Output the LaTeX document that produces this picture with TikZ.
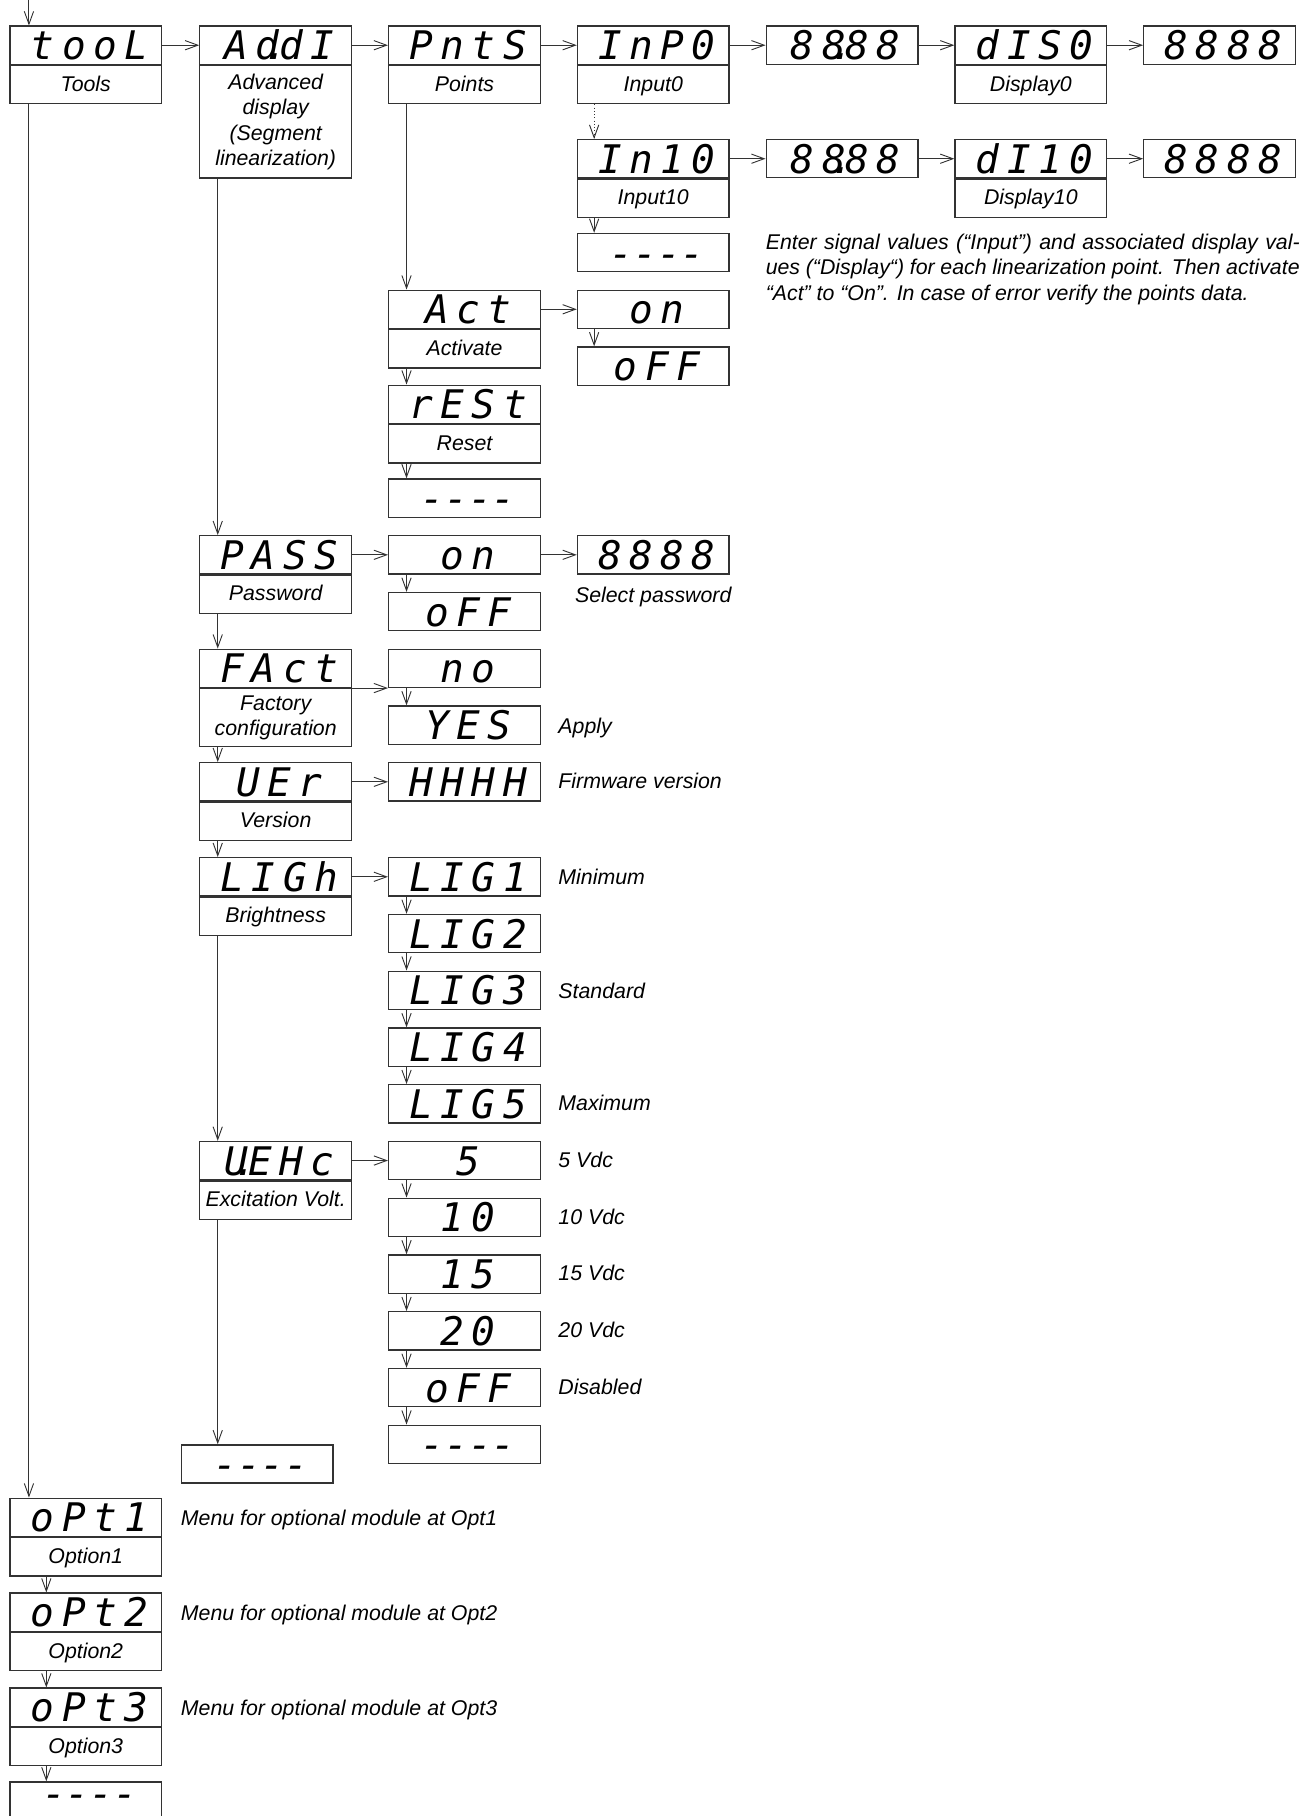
\documentclass[tikz,border=0pt]{standalone}
\usepackage{fontspec}
\setmainfont{Liberation Sans}
\newfontfamily\segfam{DejaVu Sans Mono}[LetterSpace=19]
\usetikzlibrary{arrows.meta,calc}
\definecolor{ln}{HTML}{333333}
\newcommand\segfont{\segfam\itshape\fontsize{34}{34}\selectfont}
\newcommand\labfont{\itshape\fontsize{18.4}{22}\selectfont}
\newcommand\segdot{\kern-0.38em\rlap{.}\kern0.38em}
\newcommand\segt[1]{\kern0.19em#1}
\newcommand\dsh{-\kern0pt-\kern0pt-\kern0pt-}
\tikzset{
  seg/.style={draw=ln, line width=1.1pt, minimum width=131pt, minimum height=33pt,
    inner sep=0pt, anchor=north west, font=\segfont, text height=25pt, text depth=0pt},
  lab/.style={draw=ln, line width=1.1pt, minimum width=131pt, minimum height=33pt,
    inner sep=0pt, anchor=north, font=\labfont, text height=13.2pt, text depth=2pt},
  labm/.style={draw=ln, line width=1.1pt, minimum width=131pt, inner sep=0pt,
    anchor=north, font=\labfont, align=center},
  txt/.style={font=\labfont, inner sep=0pt, anchor=base west},
  con/.style={draw=ln, line width=0.8pt, -{Straight Barb[length=11pt,width=8pt]}}
}
\begin{document}
\begin{tikzpicture}[x=1pt,y=-1pt]
\clip (0,0) rectangle (1127,1568);
% row 1
\node[seg] (tool) at (8,22) {\segt{tooL}};
\node[lab] (tooll) at (tool.south) {Tools};
\node[seg] (addi) at (172,22) {\segt{Ad\segdot dI}};
\node[labm, minimum height=97pt] (addil) at (addi.south) {Advanced\\display\\(Segment\\linearization)};
\node[seg] (pnts) at (335,22) {\segt{PntS}};
\node[lab] (pntsl) at (pnts.south) {Points};
\node[seg] (inp0) at (498,22) {\segt{InP0}};
\node[lab] (inp0l) at (inp0.south) {Input0};
\node[seg] (va0) at (661,22) {\segt{88\segdot 88}};
\node[seg] (dis0) at (824,22) {\segt{dIS0}};
\node[lab] (dis0l) at (dis0.south) {Display0};
\node[seg] (vd0) at (987,22) {\segt{8888}};
% row 2
\node[seg] (in10) at (498,120) {\segt{In10}};
\node[lab] (in10l) at (in10.south) {Input10};
\node[seg] (va10) at (661,120) {\segt{88\segdot 88}};
\node[seg] (dis10) at (824,120) {\segt{dI10}};
\node[lab] (dis10l) at (dis10.south) {Display10};
\node[seg] (vd10) at (987,120) {\segt{8888}};
\node[seg] (inend) at (498,201) {\segt{\dsh}};
\node[txt, anchor=north west, text width=461pt, align=justify] (note) at (661,201.5)
 {\tolerance=10000 Enter signal values (“Input”) and associated display val-\linebreak
 ues (“Display“) for each linearization point. Then activate\linebreak
 “Act” to “On”. In case of error verify the points data.};
% Act / Reset
\node[seg] (act) at (335,250) {\segt{Act}};
\node[lab] (actl) at (act.south) {Activate};
\node[seg] (acton) at (498,250) {\segt{on}};
\node[seg] (actoff) at (498,299) {\segt{oFF}};
\node[seg] (rest) at (335,332) {\segt{rESt}};
\node[lab] (restl) at (rest.south) {Reset};
\node[seg] (pend) at (335,413) {\segt{\dsh}};
% Password
\node[seg] (pass) at (172,462) {\segt{PASS}};
\node[lab] (passl) at (pass.south) {Password};
\node[seg] (pwon) at (335,462) {\segt{on}};
\node[seg] (pwval) at (498,462) {\segt{8888}};
\node[txt, anchor=base] (selpw) at ($(pwval.south)+(0,24)$) {Select password};
\node[seg] (pwoff) at (335,511) {\segt{oFF}};
% Factory
\node[seg] (fact) at (172,560) {\segt{FAct}};
\node[labm, minimum height=50pt] (factl) at (fact.south) {Factory\\configuration};
\node[seg] (fno) at (335,560) {\segt{no}};
\node[seg] (fyes) at (335,609) {\segt{YES}};
\node[txt] (apply) at (482,633) {Apply};
% Version
\node[seg] (ver) at (172,658) {\segt{UEr}};
\node[lab] (verl) at (ver.south) {Version};
\node[seg] (hhhh) at (335,658) {\segt{HHHH}};
\node[txt] (fw) at (482,681) {Firmware version};
% Brightness
\node[seg] (ligh) at (172,740) {\segt{LIGh}};
\node[lab] (lighl) at (ligh.south) {Brightness};
\node[seg] (lig1) at (335,740) {\segt{LIG1}};
\node[seg] (lig2) at (335,789) {\segt{LIG2}};
\node[seg] (lig3) at (335,838) {\segt{LIG3}};
\node[seg] (lig4) at (335,887) {\segt{LIG4}};
\node[seg] (lig5) at (335,936) {\segt{LIG5}};
\node[txt] (tmin) at (482,764) {Minimum};
\node[txt] (tstd) at (482,862) {Standard};
\node[txt] (tmax) at (482,959) {Maximum};
% Excitation
\node[seg] (uehc) at (172,985) {\segt{U\segdot EHc}};
\node[lab] (uehcl) at (uehc.south) {Excitation Volt.};
\node[seg] (v5) at (335,985) {\segt{5}};
\node[seg] (v10) at (335,1034) {\segt{10}};
\node[seg] (v15) at (335,1083) {\segt{15}};
\node[seg] (v20) at (335,1132) {\segt{20}};
\node[seg] (voff) at (335,1181) {\segt{oFF}};
\node[seg] (vend) at (335,1230) {\segt{\dsh}};
\node[txt] (t5) at (482,1008) {5 Vdc};
\node[txt] (t10) at (482,1057) {10 Vdc};
\node[txt] (t15) at (482,1106) {15 Vdc};
\node[txt] (t20) at (482,1155) {20 Vdc};
\node[txt] (tdis) at (482,1204) {Disabled};
\node[seg] (aend) at (156,1247) {\segt{\dsh}};
% Options
\node[seg] (opt1) at (8,1293) {\segt{oPt1}};
\node[lab] (opt1l) at (opt1.south) {Option1};
\node[seg] (opt2) at (8,1375) {\segt{oPt2}};
\node[lab] (opt2l) at (opt2.south) {Option2};
\node[seg] (opt3) at (8,1457) {\segt{oPt3}};
\node[lab] (opt3l) at (opt3.south) {Option3};
\node[seg, minimum height=31pt, text height=18pt, text depth=5pt] (oend) at (8,1538) {\segt{\dsh}};
\node[txt] (to1) at (156,1317) {Menu for optional module at Opt1};
\node[txt] (to2) at (156,1399) {Menu for optional module at Opt2};
\node[txt] (to3) at (156,1481) {Menu for optional module at Opt3};
% connectors
\coordinate (start) at (25,0);
\draw[con] (start) -- (tool.north -| start);
\draw[con] (tool.east) -- (addi.west);
\draw[con] (addi.east) -- (pnts.west);
\draw[con] (pnts.east) -- (inp0.west);
\draw[con] (inp0.east) -- (va0.west);
\draw[con] (va0.east) -- (dis0.west);
\draw[con] (dis0.east) -- (vd0.west);
\draw[con] (in10.east) -- (va10.west);
\draw[con] (va10.east) -- (dis10.west);
\draw[con] (dis10.east) -- (vd10.west);
\draw[con, dotted] ($(inp0l.south west)+(15,0)$) -- ($(in10.north west)+(15,0)$);
\draw[con] ($(in10l.south west)+(15,0)$) -- ($(inend.north west)+(15,0)$);
\draw[con] ($(pntsl.south west)+(16,0)$) -- ($(act.north west)+(16,0)$);
\draw[con] (act.east) -- (acton.west);
\draw[con] ($(acton.south west)+(15,0)$) -- ($(actoff.north west)+(15,0)$);
\draw[con] ($(actl.south west)+(16,0)$) -- ($(rest.north west)+(16,0)$);
\draw[con] ($(restl.south west)+(16,0)$) -- ($(pend.north west)+(16,0)$);
\draw[con] ($(addil.south west)+(16,0)$) -- ($(pass.north west)+(16,0)$);
\draw[con] (pass.east) -- (pwon.west);
\draw[con] (pwon.east) -- (pwval.west);
\draw[con] ($(pwon.south west)+(16,0)$) -- ($(pwoff.north west)+(16,0)$);
\draw[con] ($(passl.south west)+(16,0)$) -- ($(fact.north west)+(16,0)$);
\draw[con] (factl.north east) -- (fno.south west);
\draw[con] ($(fno.south west)+(16,0)$) -- ($(fyes.north west)+(16,0)$);
\draw[con] ($(factl.south west)+(16,0)$) -- ($(ver.north west)+(16,0)$);
\draw[con] (ver.east) -- (hhhh.west);
\draw[con] ($(verl.south west)+(16,0)$) -- ($(ligh.north west)+(16,0)$);
\draw[con] (ligh.east) -- (lig1.west);
\draw[con] ($(lig1.south west)+(16,0)$) -- ($(lig2.north west)+(16,0)$);
\draw[con] ($(lig2.south west)+(16,0)$) -- ($(lig3.north west)+(16,0)$);
\draw[con] ($(lig3.south west)+(16,0)$) -- ($(lig4.north west)+(16,0)$);
\draw[con] ($(lig4.south west)+(16,0)$) -- ($(lig5.north west)+(16,0)$);
\draw[con] ($(lighl.south west)+(16,0)$) -- ($(uehc.north west)+(16,0)$);
\draw[con] (uehc.east) -- (v5.west);
\draw[con] ($(v5.south west)+(16,0)$) -- ($(v10.north west)+(16,0)$);
\draw[con] ($(v10.south west)+(16,0)$) -- ($(v15.north west)+(16,0)$);
\draw[con] ($(v15.south west)+(16,0)$) -- ($(v20.north west)+(16,0)$);
\draw[con] ($(v20.south west)+(16,0)$) -- ($(voff.north west)+(16,0)$);
\draw[con] ($(voff.south west)+(16,0)$) -- ($(vend.north west)+(16,0)$);
\coordinate (ua) at ($(uehcl.south west)+(16,0)$);
\draw[con] (ua) -- (ua |- aend.north);
\draw[con] ($(tooll.south west)+(17,0)$) -- ($(opt1.north west)+(17,0)$);
\draw[con] ($(opt1l.south west)+(32,0)$) -- ($(opt2.north west)+(32,0)$);
\draw[con] ($(opt2l.south west)+(32,0)$) -- ($(opt3.north west)+(32,0)$);
\draw[con] ($(opt3l.south west)+(32,0)$) -- ($(oend.north west)+(32,0)$);
\end{tikzpicture}
\end{document}
